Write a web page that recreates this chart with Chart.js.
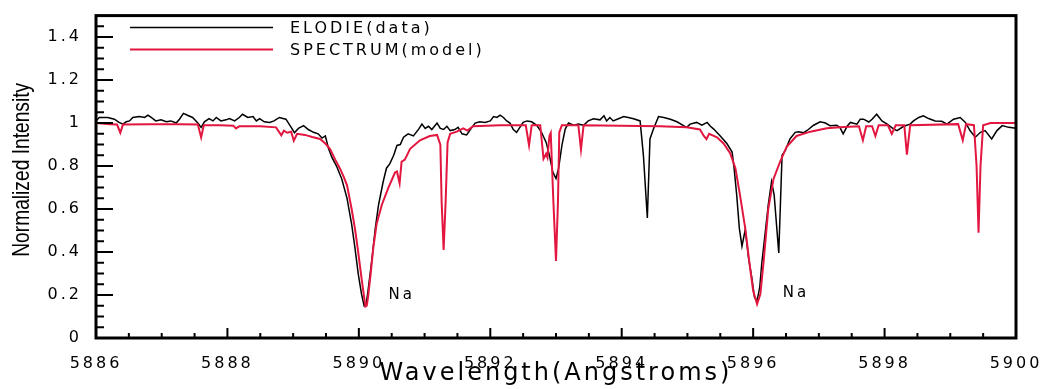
<!DOCTYPE html>
<html>
<head>
<meta charset="utf-8">
<script src="https://cdn.jsdelivr.net/npm/chart.js@4"></script>
<style>
  html, body { margin: 0; padding: 0; background: #fff; }
  canvas { display: block; }
</style>
</head>
<body>
<canvas id="spectrum" width="1050" height="389"></canvas>
<script>
// observed spectrum (ELODIE), wavelength in Angstroms
const elodieWave = [
  5886.00, 5886.05, 5886.18, 5886.28, 5886.35, 5886.41, 5886.46, 5886.51, 5886.56, 5886.66,
  5886.74, 5886.79, 5886.84, 5886.91, 5886.99, 5887.07, 5887.14, 5887.22, 5887.27, 5887.33,
  5887.40, 5887.47, 5887.55, 5887.60, 5887.65, 5887.72, 5887.78, 5887.83, 5887.90, 5887.98,
  5888.03, 5888.11, 5888.18, 5888.23, 5888.31, 5888.39, 5888.44, 5888.49, 5888.56, 5888.64,
  5888.71, 5888.79, 5888.89, 5888.97, 5889.02, 5889.08, 5889.16, 5889.23, 5889.31, 5889.38,
  5889.44, 5889.49, 5889.54, 5889.59, 5889.66, 5889.74, 5889.82, 5889.89, 5889.94, 5889.99,
  5890.04, 5890.08, 5890.11, 5890.14, 5890.20, 5890.25, 5890.30, 5890.37, 5890.42, 5890.47,
  5890.53, 5890.58, 5890.63, 5890.68, 5890.75, 5890.83, 5890.91, 5890.96, 5891.01, 5891.06,
  5891.11, 5891.19, 5891.24, 5891.29, 5891.34, 5891.39, 5891.46, 5891.51, 5891.57, 5891.64,
  5891.72, 5891.77, 5891.84, 5891.92, 5892.00, 5892.05, 5892.10, 5892.15, 5892.20, 5892.25,
  5892.30, 5892.35, 5892.40, 5892.45, 5892.50, 5892.56, 5892.63, 5892.71, 5892.78, 5892.85,
  5892.90, 5892.95, 5893.00, 5893.04, 5893.09, 5893.14, 5893.19, 5893.27, 5893.34, 5893.42,
  5893.49, 5893.57, 5893.67, 5893.73, 5893.77, 5893.82, 5893.87, 5893.95, 5894.03, 5894.10,
  5894.18, 5894.28, 5894.33, 5894.39, 5894.43, 5894.48, 5894.56, 5894.64, 5894.74, 5894.84,
  5894.94, 5894.99, 5895.04, 5895.14, 5895.22, 5895.30, 5895.35, 5895.40, 5895.50, 5895.60,
  5895.68, 5895.71, 5895.75, 5895.79, 5895.83, 5895.88, 5895.93, 5895.98, 5896.02, 5896.06,
  5896.10, 5896.13, 5896.18, 5896.23, 5896.28, 5896.32, 5896.39, 5896.44, 5896.49, 5896.56,
  5896.64, 5896.69, 5896.77, 5896.84, 5896.92, 5897.02, 5897.10, 5897.17, 5897.27, 5897.32,
  5897.37, 5897.43, 5897.48, 5897.58, 5897.63, 5897.68, 5897.76, 5897.81, 5897.88, 5897.96,
  5898.04, 5898.14, 5898.19, 5898.29, 5898.39, 5898.44, 5898.52, 5898.59, 5898.67, 5898.77,
  5898.87, 5898.95, 5899.05, 5899.15, 5899.23, 5899.30, 5899.38, 5899.46, 5899.53, 5899.63,
  5899.71, 5899.79, 5899.89, 5900.00
];
const elodieFlux = [
  1.01, 1.026, 1.026, 1.018, 1.003, 0.995, 1.006, 1.01, 1.026, 1.03,
  1.026, 1.037, 1.026, 1.01, 1.015, 1.006, 1.01, 1.0, 1.018, 1.045,
  1.035, 1.026, 1.0, 0.98, 1.006, 1.021, 1.01, 1.026, 1.01, 1.015,
  1.021, 1.01, 1.026, 1.041, 1.026, 1.03, 1.01, 1.021, 1.006, 1.003,
  1.01, 1.026, 1.018, 0.98, 0.955, 0.975, 0.988, 0.97, 0.957, 0.95,
  0.93, 0.94, 0.88, 0.84, 0.80, 0.74, 0.65, 0.53, 0.42, 0.30,
  0.205, 0.15, 0.155, 0.22, 0.37, 0.51, 0.62, 0.727, 0.79, 0.81,
  0.85, 0.896, 0.90, 0.934, 0.95, 0.94, 0.972, 0.995, 0.975, 0.985,
  0.97, 1.0, 0.975, 0.97, 0.985, 0.965, 0.97, 0.98, 0.95, 0.945,
  0.98, 1.0, 1.006, 1.003, 1.01, 1.03, 1.026, 1.037, 1.026, 1.01,
  1.0, 0.97, 0.957, 0.98, 1.003, 1.01, 1.006, 0.988, 0.957, 0.91,
  0.85, 0.773, 0.742, 0.79, 0.896, 0.972, 1.0, 0.99, 0.995, 0.99,
  1.01, 1.02, 1.015, 1.034, 1.01, 1.026, 1.01, 1.02, 1.03, 1.026,
  1.02, 1.01, 0.85, 0.558, 0.926, 0.97, 1.03, 1.026, 1.018, 1.006,
  0.988, 0.98, 0.995, 1.003, 0.99, 1.003, 0.985, 0.972, 0.94, 0.905,
  0.865, 0.79, 0.665, 0.51, 0.427, 0.504, 0.373, 0.28, 0.19, 0.174,
  0.235, 0.343, 0.48, 0.62, 0.727, 0.665, 0.396, 0.85, 0.873, 0.926,
  0.957, 0.96, 0.955, 0.97, 0.99, 1.006, 1.0, 0.988, 0.99, 0.98,
  0.95, 0.985, 1.003, 0.995, 1.018, 1.018, 1.005, 1.018, 1.041, 1.01,
  0.995, 0.972, 0.965, 0.985, 0.995, 1.01, 1.026, 1.034, 1.021, 1.01,
  1.008, 0.995, 1.018, 1.026, 1.003, 0.965, 0.934, 0.957, 0.965, 0.926,
  0.965, 0.988, 0.98, 0.976
];

// synthetic spectrum (SPECTRUM model)
const modelWave = [
  5886.00, 5886.21, 5886.32, 5886.37, 5886.41, 5886.82, 5887.28, 5887.55, 5887.60, 5887.64,
  5887.89, 5888.09, 5888.13, 5888.18, 5888.50, 5888.74, 5888.82, 5888.86, 5888.91, 5888.97,
  5889.01, 5889.06, 5889.18, 5889.29, 5889.41, 5889.49, 5889.56, 5889.64, 5889.71, 5889.77,
  5889.82, 5889.89, 5889.94, 5889.99, 5890.04, 5890.08, 5890.10, 5890.12, 5890.14, 5890.18,
  5890.22, 5890.27, 5890.35, 5890.45, 5890.55, 5890.58, 5890.62, 5890.65, 5890.70, 5890.78,
  5890.93, 5891.08, 5891.19, 5891.24, 5891.26, 5891.29, 5891.32, 5891.35, 5891.39, 5891.49,
  5891.59, 5891.65, 5891.74, 5892.15, 5892.54, 5892.59, 5892.63, 5892.76, 5892.81, 5892.85,
  5892.87, 5892.90, 5892.92, 5892.96, 5893.00, 5893.03, 5893.05, 5893.09, 5893.34, 5893.38,
  5893.42, 5893.98, 5894.58, 5894.99, 5895.19, 5895.25, 5895.29, 5895.33, 5895.45, 5895.55,
  5895.65, 5895.73, 5895.80, 5895.88, 5895.94, 5896.00, 5896.06, 5896.11, 5896.16, 5896.23,
  5896.31, 5896.41, 5896.51, 5896.66, 5896.87, 5897.12, 5897.32, 5897.61, 5897.67, 5897.72,
  5897.81, 5897.86, 5897.91, 5898.05, 5898.11, 5898.17, 5898.30, 5898.34, 5898.39, 5899.12,
  5899.19, 5899.24, 5899.36, 5899.40, 5899.43, 5899.46, 5899.50, 5899.61, 5900.00
];
const modelFlux = [
  1.0, 0.995, 0.993, 0.955, 0.993, 0.995, 0.995, 0.993, 0.933, 0.99,
  0.99, 0.988, 0.975, 0.985, 0.985, 0.98, 0.943, 0.965, 0.955, 0.96,
  0.918, 0.95, 0.945, 0.935, 0.926, 0.905, 0.88, 0.83, 0.79, 0.75,
  0.71, 0.60, 0.51, 0.40, 0.28, 0.19, 0.146, 0.15, 0.19, 0.30,
  0.42, 0.53, 0.62, 0.70, 0.77, 0.775, 0.72, 0.82, 0.83, 0.88,
  0.92, 0.94, 0.945, 0.90, 0.63, 0.41, 0.63, 0.91, 0.95, 0.96,
  0.975, 0.965, 0.985, 0.99, 0.99, 0.896, 0.99, 0.99, 0.834, 0.857,
  0.84, 0.94, 0.954, 0.635, 0.358, 0.635, 0.957, 0.99, 0.99, 0.877,
  0.99, 0.988, 0.985, 0.98, 0.97, 0.94, 0.925, 0.95, 0.934, 0.905,
  0.86, 0.79, 0.665, 0.51, 0.358, 0.22, 0.158, 0.205, 0.358, 0.60,
  0.74, 0.82, 0.89, 0.94, 0.96, 0.976, 0.98, 0.985, 0.92, 0.985,
  0.985, 0.94, 0.99, 0.99, 0.95, 0.99, 0.99, 0.853, 0.99, 0.995,
  0.92, 0.995, 0.99, 0.80, 0.49, 0.80, 0.99, 1.0, 1.0
];

const xTickValues = [5886, 5888, 5890, 5892, 5894, 5896, 5898, 5900];
const yTickValues = [0, 0.2, 0.4, 0.6, 0.8, 1, 1.2, 1.4];

// line identifications
const lineLabels = ['Na', 'Na'];
const lineLabelWave = [5890.45, 5896.45];
const lineLabelFlux = [0.2, 0.21];

const toPoints = (xs, ys) => xs.map((x, i) => ({ x: x, y: ys[i] }));

// inward ticks, frame, legend, titles and line labels
const decorations = {
    id: 'decorations',
    beforeDraw(chart) {
        chart.ctx.letterSpacing = '3px';
    },
    afterDraw(chart) {
        const ctx = chart.ctx;
        const { left, right, top, bottom } = chart.chartArea;
        const xs = chart.scales.x;
        const ys = chart.scales.y;
        ctx.save();
        ctx.strokeStyle = '#000';
        ctx.lineWidth = 2;
        ctx.beginPath();
        const xStep = xTickValues[1] - xTickValues[0];
        xTickValues.forEach(v => {
            const px = xs.getPixelForValue(v);
            ctx.moveTo(px, bottom);
            ctx.lineTo(px, bottom - 10);
            for (let k = 1; k < 4; k++) {
                const mv = v + k * xStep / 4;
                if (mv >= xs.max) break;
                const mx = xs.getPixelForValue(mv);
                ctx.moveTo(mx, bottom);
                ctx.lineTo(mx, bottom - 5);
            }
        });
        const yStep = yTickValues[1] - yTickValues[0];
        yTickValues.forEach(v => {
            const py = ys.getPixelForValue(v);
            ctx.moveTo(left, py);
            ctx.lineTo(left + 17, py);
            for (let k = 1; k < 4; k++) {
                const mv = v + k * yStep / 4;
                if (mv >= ys.max - 1e-9) break;
                const my = ys.getPixelForValue(mv);
                ctx.moveTo(left, my);
                ctx.lineTo(left + 8, my);
            }
        });
        ctx.stroke();

        ctx.lineWidth = 3;
        ctx.strokeRect(left, top, right - left, bottom - top);

        // legend
        ctx.letterSpacing = '3px';
        ctx.font = '16px "DejaVu Sans"';
        ctx.textAlign = 'left';
        ctx.textBaseline = 'middle';
        ctx.fillStyle = '#000';
        chart.data.datasets.forEach((ds, i) => {
            const ly = top + 12 + i * 22;
            ctx.strokeStyle = ds.borderColor;
            ctx.lineWidth = ds.borderWidth;
            ctx.beginPath();
            ctx.moveTo(left + 34, ly);
            ctx.lineTo(left + 177, ly);
            ctx.stroke();
            ctx.fillText(ds.label, left + 194, ly + 1);
        });

        // line identifications
        ctx.font = '15px "DejaVu Sans"';
        lineLabels.forEach((t, i) => {
            ctx.fillText(t, xs.getPixelForValue(lineLabelWave[i]), ys.getPixelForValue(lineLabelFlux[i]));
        });

        // y axis title (condensed sans)
        ctx.letterSpacing = '0px';
        ctx.translate(22, (top + bottom) / 2 - 7);
        ctx.rotate(-Math.PI / 2);
        ctx.scale(0.8, 1);
        ctx.textAlign = 'center';
        ctx.font = '24px "Liberation Sans"';
        ctx.fillText('Normalized Intensity', 0, 0);
        ctx.restore();
        ctx.letterSpacing = '3px';
    }
};

new Chart(document.getElementById('spectrum'), {
    type: 'line',
    data: {
        datasets: [
            {
                label: 'ELODIE(data)',
                data: toPoints(elodieWave, elodieFlux),
                borderColor: '#000000',
                borderWidth: 1.5,
                pointRadius: 0,
                tension: 0,
                order: 2
            },
            {
                label: 'SPECTRUM(model)',
                data: toPoints(modelWave, modelFlux),
                borderColor: '#e2163f',
                borderWidth: 2,
                pointRadius: 0,
                tension: 0,
                order: 1
            }
        ]
    },
    options: {
        responsive: false,
        animation: false,
        devicePixelRatio: 1,
        layout: { padding: { left: 0, right: 34, top: 12, bottom: 0 } },
        plugins: {
            legend: { display: false },
            tooltip: { enabled: false }
        },
        scales: {
            x: {
                type: 'linear',
                min: 5886,
                max: 5900,
                grid: { display: false },
                border: { display: false },
                afterBuildTicks: s => { s.ticks = xTickValues.map(v => ({ value: v })); },
                afterFit: s => { s.height = 51; },
                ticks: {
                    autoSkip: false,
                    maxRotation: 0,
                    padding: 8,
                    color: '#000',
                    font: { family: 'DejaVu Sans', size: 16 },
                    callback: v => String(v)
                },
                title: {
                    display: true,
                    text: 'Wavelength(Angstroms)',
                    color: '#000',
                    font: { family: 'DejaVu Sans', size: 24 },
                    padding: { top: 0, bottom: 1 }
                }
            },
            y: {
                min: 0,
                max: 1.5,
                grid: { display: false },
                border: { display: false },
                afterBuildTicks: s => { s.ticks = yTickValues.map(v => ({ value: v })); },
                afterFit: s => { s.width = 96; },
                ticks: {
                    padding: 6,
                    color: '#000',
                    font: { family: 'DejaVu Sans', size: 16 },
                    callback: v => String(v)
                }
            }
        }
    },
    plugins: [decorations]
});
</script>
</body>
</html>
